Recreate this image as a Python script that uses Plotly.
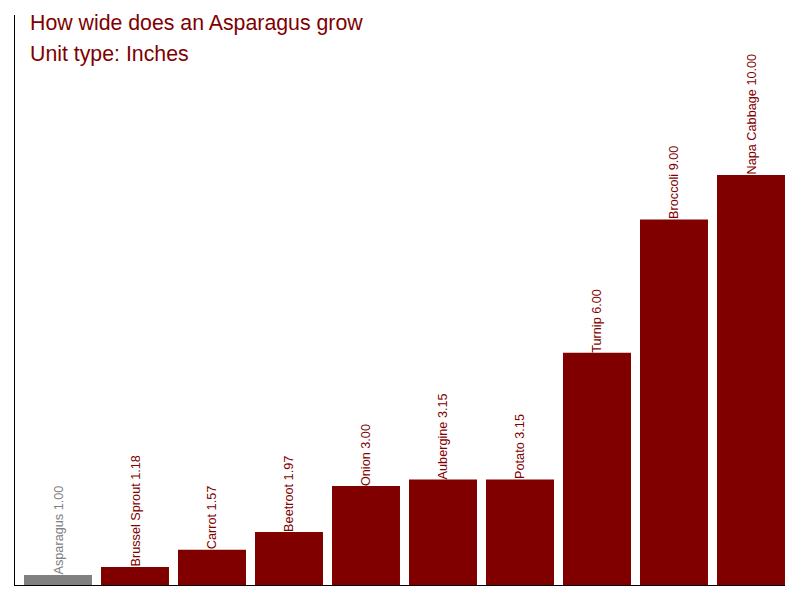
import plotly.graph_objects as go

# Données
vegetables = ["Asparagus", "Brussel Sprout", "Carrot", "Beetroot", "Onion",
              "Aubergine", "Potato", "Turnip", "Broccoli", "Napa Cabbage"]
widths = [1.00, 1.18, 1.57, 1.97, 3.00, 3.15, 3.15, 6.00, 9.00, 10.00]
highlight = "Asparagus"

MAROON = "#800000"
GREY = "#808080"
FONT = "Liberation Sans, Arial"

colors = [GREY if v == highlight else MAROON for v in vegetables]
labels = [f"{v} {w:.2f}" for v, w in zip(vegetables, widths)]

fig = go.Figure(go.Bar(
    x=vegetables,
    y=widths,
    marker=dict(color=colors, line=dict(width=0)),
    hoverinfo="skip",
))

# Étiquettes verticales posées sur le haut de chaque barre
for v, w, lab, c in zip(vegetables, widths, labels, colors):
    fig.add_annotation(
        x=v, y=w, text=lab, textangle=-90, showarrow=False,
        xanchor="center", yanchor="bottom", borderpad=0, yshift=-1,
        font=dict(family=FONT, size=12.7, color=c),
    )

# Titre sur deux lignes, en haut à gauche
fig.add_annotation(
    text="How wide does an Asparagus grow", xref="paper", yref="paper",
    x=0.017, y=0.986, xanchor="left", yanchor="middle", showarrow=False,
    font=dict(family=FONT, size=21.3, color=MAROON),
)
fig.add_annotation(
    text="Unit type: Inches", xref="paper", yref="paper",
    x=0.017, y=0.931, xanchor="left", yanchor="middle", showarrow=False,
    font=dict(family=FONT, size=21.3, color=MAROON),
)

fig.update_layout(
    width=800, height=600,
    margin=dict(l=7, r=23, t=7, b=23),
    paper_bgcolor="white", plot_bgcolor="white",
    bargap=0.117,
    showlegend=False,
    xaxis=dict(range=[-0.5584, 9.4416], showticklabels=False, ticks="", showgrid=False,
               showline=True, linecolor="black", linewidth=1, zeroline=False),
    yaxis=dict(range=[0.775, 13.6], showticklabels=False, ticks="", showgrid=False,
               showline=True, linecolor="black", linewidth=1, zeroline=False),
)

fig.write_html("out.html")
